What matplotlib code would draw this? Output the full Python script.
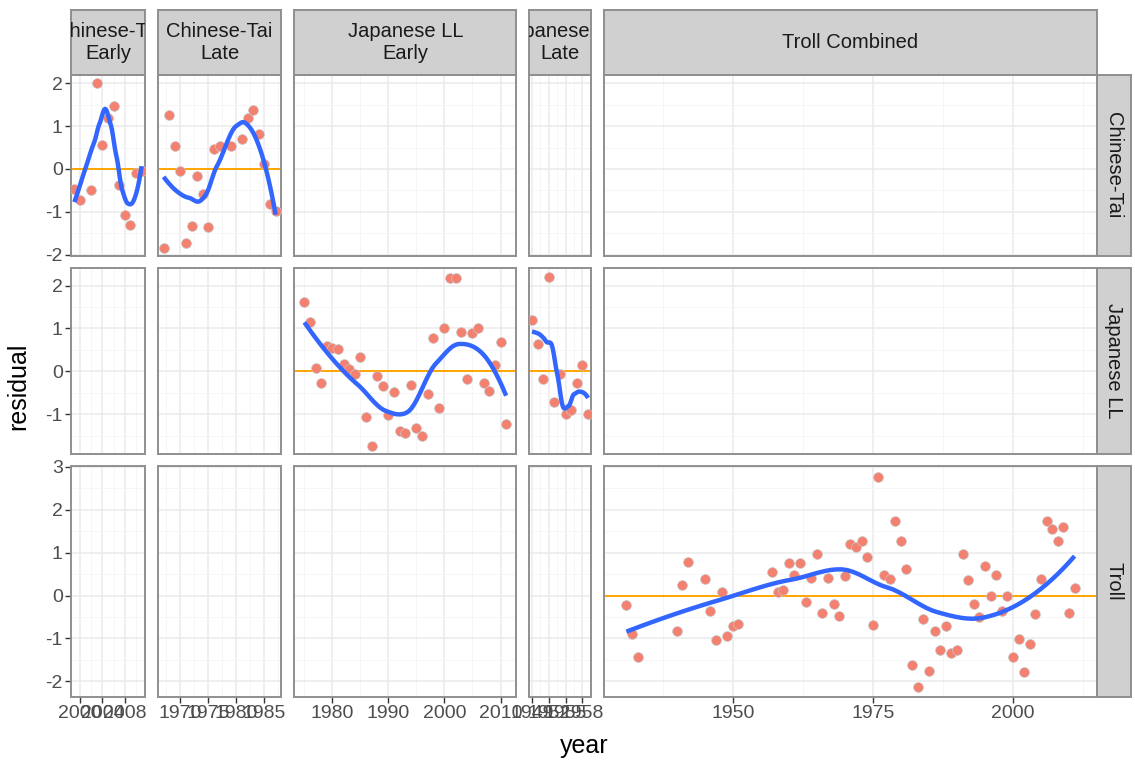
import numpy as np
import matplotlib
matplotlib.use('Agg')
import matplotlib.pyplot as plt
from matplotlib.ticker import MultipleLocator, FixedLocator

plt.rcParams['font.family'] = ['Liberation Sans', 'DejaVu Sans']
plt.rcParams['axes.unicode_minus'] = False

# residuals
ct_early_year = [1999, 2000, 2002, 2003, 2004, 2005, 2006, 2007, 2008, 2009, 2010, 2011]
ct_early_resid = [-0.47, -0.72, -0.49, 2.0, 0.55, 1.2, 1.47, -0.37, -1.07, -1.31, -0.1, -0.05]

ct_late_year = [1967, 1968, 1969, 1970, 1971, 1972, 1973, 1974, 1975, 1976, 1977, 1979,
                1981, 1982, 1983, 1984, 1985, 1986, 1987]
ct_late_resid = [-1.84, 1.25, 0.53, -0.05, -1.73, -1.32, -0.16, -0.59, -1.36, 0.47, 0.53, 0.53,
                 0.71, 1.18, 1.37, 0.81, 0.12, -0.81, -0.98]

jll_early_year = list(range(1975, 2012))
jll_early_resid = [1.61, 1.16, 0.08, -0.27, 0.59, 0.55, 0.53, 0.16, 0.06, -0.07, 0.34, -1.07,
                   -1.74, -0.11, -0.34, -1.03, -0.49, -1.40, -1.44, -0.31, -1.32, -1.52, -0.54,
                   0.77, -0.85, 1.01, 2.18, 2.18, 0.91, -0.19, 0.89, 1.0, -0.28, -0.46, 0.14,
                   0.69, -1.23]

jll_late_year = list(range(1949, 1960))
jll_late_resid = [1.19, 0.64, -0.18, 2.21, -0.71, -0.06, -0.99, -0.91, -0.28, 0.15, -0.99]

troll_year = [1931, 1932, 1933, 1940, 1941, 1942, 1945, 1946, 1947, 1948, 1949, 1950, 1951,
              1957, 1958, 1959, 1960, 1961, 1962, 1963, 1964, 1965, 1966, 1967, 1968, 1969,
              1970, 1971, 1972, 1973, 1974, 1975, 1976, 1977, 1978, 1979, 1980, 1981, 1982,
              1983, 1984, 1985, 1986, 1987, 1988, 1989, 1990, 1991, 1992, 1993, 1994, 1995,
              1996, 1997, 1998, 1999, 2000, 2001, 2002, 2003, 2004, 2005, 2006, 2007, 2008,
              2009, 2010, 2011]
troll_resid = [-0.23, -0.90, -1.44, -0.82, 0.25, 0.78, 0.38, -0.35, -1.03, 0.09, -0.95, -0.72,
               -0.66, 0.54, 0.08, 0.12, 0.77, 0.48, 0.77, -0.16, 0.42, 0.97, -0.40, 0.41, -0.20,
               -0.47, 0.46, 1.2, 1.13, 1.28, 0.90, -0.68, 2.77, 0.48, 0.38, 1.74, 1.28, 0.61,
               -1.61, -2.12, -0.55, -1.75, -0.82, -1.28, -0.70, -1.35, -1.28, 0.97, 0.37, -0.20,
               -0.50, 0.68, 0.0, 0.47, -0.37, 0.0, -1.43, -1.02, -1.79, -1.13, -0.43, 0.39, 1.74,
               1.55, 1.28, 1.61, -0.41, 0.17]

col_labels = ['Chinese-Tai\nEarly', 'Chinese-Tai\nLate', 'Japanese LL\nEarly',
              'Japanese LL\nLate', 'Troll Combined']
row_labels = ['Chinese-Tai', 'Japanese LL', 'Troll']
col_ticks = [[2000, 2004, 2008], [1970, 1975, 1980, 1985], [1980, 1990, 2000, 2010],
             [1949, 1952, 1955, 1958], [1950, 1975, 2000]]

panels = {
    (0, 0): (ct_early_year, ct_early_resid),
    (0, 1): (ct_late_year, ct_late_resid),
    (1, 2): (jll_early_year, jll_early_resid),
    (1, 3): (jll_late_year, jll_late_resid),
    (2, 4): (troll_year, troll_resid),
}


def expand(lo, hi):
    r = hi - lo
    return lo - 0.05 * r, hi + 0.05 * r


def local_fit(x, y, x0, q):
    d = np.abs(x - x0)
    h = np.sort(d)[q - 1]
    w = np.clip(1 - (d / h) ** 3, 0, None) ** 3
    X = np.column_stack([np.ones_like(x), x - x0, (x - x0) ** 2])
    sw = np.sqrt(w)
    beta = np.linalg.lstsq(X * sw[:, None], y * sw, rcond=None)[0]
    return beta[0], beta[1]


def loess(x, y, xs, span=0.75, cell=0.2):
    # R-style loess: fits at kd-tree vertices, cubic Hermite in between
    x = np.asarray(x, float)
    y = np.asarray(y, float)
    n = len(x)
    q = int(np.floor(n * span))
    fc = int(np.floor(n * span * cell))
    xsrt = np.sort(x)
    mu = 0.005 * (xsrt[-1] - xsrt[0])
    verts = set()

    def split(l, u, lo, hi):
        verts.update([lo, hi])
        if u - l + 1 <= fc:
            return
        m = (l + u) // 2
        v = (xsrt[m] + xsrt[m + 1]) / 2
        if v <= lo or v >= hi:
            return
        split(l, m, lo, v)
        split(m + 1, u, v, hi)

    split(0, n - 1, xsrt[0] - mu, xsrt[-1] + mu)
    vx = np.array(sorted(verts))
    fv = np.array([local_fit(x, y, v, q) for v in vx])
    out = []
    for x0 in xs:
        k = min(max(np.searchsorted(vx, x0) - 1, 0), len(vx) - 2)
        a, b = vx[k], vx[k + 1]
        hlen = b - a
        t = (x0 - a) / hlen
        h00 = 2 * t ** 3 - 3 * t ** 2 + 1
        h10 = t ** 3 - 2 * t ** 2 + t
        h01 = -2 * t ** 3 + 3 * t ** 2
        h11 = t ** 3 - t ** 2
        out.append(h00 * fv[k, 0] + h10 * hlen * fv[k, 1] + h01 * fv[k + 1, 0] + h11 * hlen * fv[k + 1, 1])
    return np.array(out)


# scales per column / row
xlims = []
for j in range(5):
    xs = [v for (i, jj), (a, b) in panels.items() if jj == j for v in a]
    xlims.append(expand(min(xs), max(xs)))
ylims = []
for i in range(3):
    ys = [v for (ii, j), (a, b) in panels.items() if ii == i for v in b]
    ylims.append(expand(min(ys), max(ys)))

W, H = 1135, 762
fig = plt.figure(figsize=(W / 100, H / 100), dpi=100)
wr = [b - a for a, b in xlims]
hr = [b - a for a, b in ylims]
gs = fig.add_gridspec(3, 5, left=71 / W, right=1097 / W, top=1 - 75 / H, bottom=1 - 697 / H,
                      width_ratios=wr, height_ratios=hr, wspace=0.067, hspace=0.06)

border = '#8f8f8f'
axes = {}
for i in range(3):
    for j in range(5):
        ax = fig.add_subplot(gs[i, j])
        axes[i, j] = ax
        ax.set_xlim(xlims[j])
        ax.set_ylim(ylims[i])
        t = col_ticks[j]
        step = t[1] - t[0]
        ax.xaxis.set_major_locator(FixedLocator(t))
        ax.xaxis.set_minor_locator(FixedLocator(np.arange(t[0] - step / 2, t[-1] + step, step)))
        ax.yaxis.set_major_locator(MultipleLocator(1))
        ax.yaxis.set_minor_locator(MultipleLocator(0.5))
        ax.grid(which='major', color='#EBEBEB', lw=1.1)
        ax.grid(which='minor', color='#F5F5F5', lw=0.6)
        ax.set_axisbelow(True)
        for s in ax.spines.values():
            s.set_color(border)
            s.set_linewidth(1.4)
        ax.tick_params(which='minor', length=0)
        ax.tick_params(which='major', length=4, width=1, color='#333333',
                       labelsize=14, labelcolor='#4D4D4D', pad=2,
                       left=(j == 0), labelleft=(j == 0),
                       bottom=(i == 2), labelbottom=(i == 2))
        if (i, j) in panels:
            xd, yd = panels[i, j]
            ax.axhline(0, color='#FFA500', lw=1.4, zorder=2)
            ax.scatter(xd, yd, s=50, color='#F4806F', edgecolor='#c8c8c8', linewidth=0.5, zorder=3)
            xs = np.linspace(min(xd), max(xd), 80)
            ax.plot(xs, loess(xd, yd, xs), color='#3366FF', lw=3.2, zorder=4,
                    solid_capstyle='butt')

# strips
for j in range(5):
    p = axes[0, j].get_position()
    sax = fig.add_axes([p.x0, p.y1, p.width, 65 / H])
    sax.set_facecolor('#D0D0D0')
    sax.set_xticks([])
    sax.set_yticks([])
    for s in sax.spines.values():
        s.set_color(border)
        s.set_linewidth(1.4)
    txt = sax.text(0.5, 0.5, col_labels[j], ha='center', va='center', fontsize=14.5,
                   color='#1A1A1A', transform=sax.transAxes, linespacing=1.15)
    txt.set_clip_box(sax.bbox)
    txt.set_clip_on(True)

for i in range(3):
    p = axes[i, 4].get_position()
    sax = fig.add_axes([p.x1, p.y0, 34 / W, p.height])
    sax.set_facecolor('#D0D0D0')
    sax.set_xticks([])
    sax.set_yticks([])
    for s in sax.spines.values():
        s.set_color(border)
        s.set_linewidth(1.4)
    sax.text(0.5, 0.5, row_labels[i], ha='center', va='center', rotation=-90,
             fontsize=14.5, color='#1A1A1A', transform=sax.transAxes)

fig.text((71 + 1097) / 2 / W, 1 - 746 / H, 'year', ha='center', va='center', fontsize=18)
fig.text(18 / W, 1 - 386 / H, 'residual', ha='center', va='center', rotation=90, fontsize=18)

fig.savefig('out.png', dpi=100)
